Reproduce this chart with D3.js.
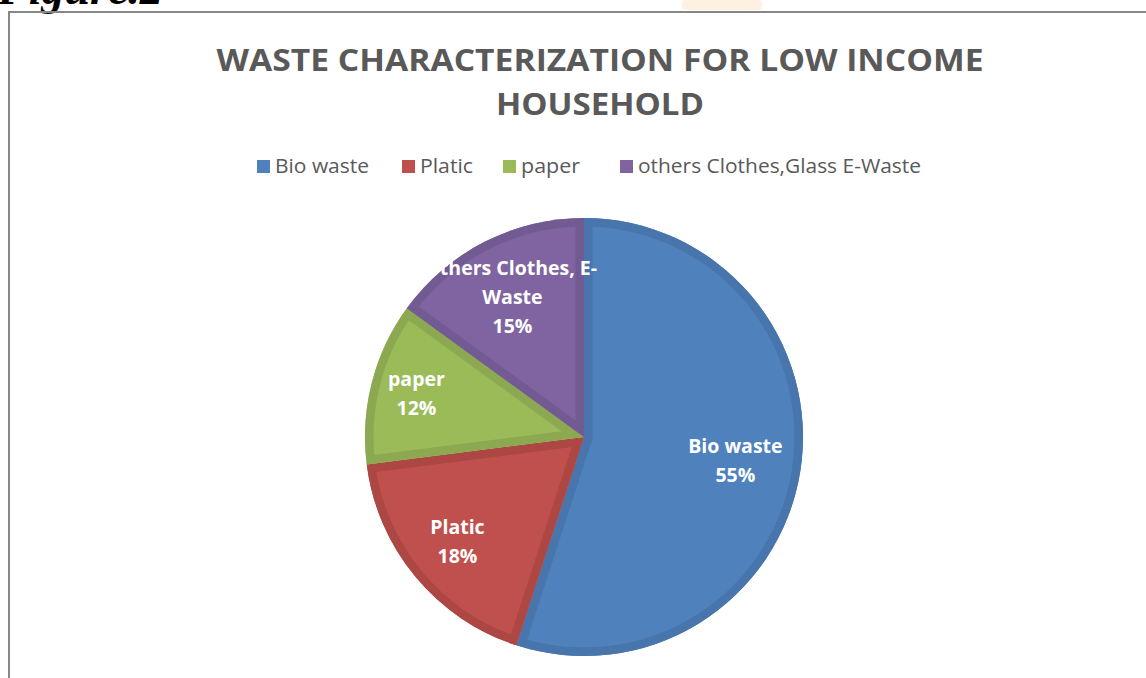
<!DOCTYPE html>
<html><head><meta charset="utf-8">
<script src="https://cdn.jsdelivr.net/npm/d3@7"></script>
<style>html,body{margin:0;padding:0;background:#fff;}svg{display:block;}</style>
</head><body>
<svg id="c" width="1146" height="678"></svg>
<script>
const categories = ["Bio waste", "Platic", "paper", "others Clothes,Glass E-Waste"];
const values = [55, 18, 12, 15];
const sliceLabels = [["Bio waste"], ["Platic"], ["paper"], ["others Clothes, E-", "Waste"]];
const colors = ["#4F81BD", "#C0504D", "#9BBB59", "#8064A2"];
const borders = ["#4775AC", "#AC4744", "#8CA951", "#725A92"];
const titleLines = ["WASTE CHARACTERIZATION FOR LOW INCOME", "HOUSEHOLD"];

const svg = d3.select("#c");
// watermark + figure caption + frame
svg.append("rect").attr("x", 682).attr("y", 0).attr("width", 80).attr("height", 10).attr("rx", 3).attr("fill", "#FFF1E2");
svg.append("text").attr("x", -2).attr("y", 4).attr("font-family", "Liberation Serif").attr("font-weight", "bold")
  .attr("font-style", "italic").attr("font-size", 46).attr("fill", "#000").text("Figure.2");
svg.append("path").attr("d", "M9,678V12H1146").attr("fill", "none").attr("stroke", "#878787").attr("stroke-width", 2);

// title
const title = svg.append("text").attr("text-anchor", "middle").attr("font-family", "Open Sans").attr("font-weight", "bold")
  .attr("font-size", 30).attr("fill", "#595959");
const titleW = [767, 208];
titleLines.forEach((t, i) => title.append("tspan").attr("x", 600).attr("y", 71 + i * 44).attr("textLength", titleW[i]).attr("lengthAdjust", "spacingAndGlyphs").text(t));

// legend
const legX = [257, 402, 503, 620];
const legW = [94, 53, 59, 283];
const leg = svg.append("g");
categories.forEach((c, i) => {
  const g = leg.append("g").attr("transform", `translate(${legX[i]},0)`);
  g.append("rect").attr("x", 0).attr("y", 160).attr("width", 13).attr("height", 13).attr("fill", colors[i]);
  g.append("text").attr("x", 18).attr("y", 173).attr("font-family", "Open Sans").attr("font-size", 20).attr("fill", "#595959")
    .attr("textLength", legW[i]).attr("lengthAdjust", "spacingAndGlyphs").text(c);
});

// pie
const cx = 584, cy = 437, R = 219;
const pie = d3.pie().sort(null).value(d => d)(values);
const arc = d3.arc().innerRadius(0).outerRadius(R);
const g = svg.append("g").attr("transform", `translate(${cx},${cy})`);
const defs = svg.append("defs");
pie.forEach((p, i) => {
  defs.append("clipPath").attr("id", "cl" + i).append("path").attr("d", arc(p));
  g.append("path").attr("d", arc(p)).attr("fill", colors[i]);
  g.append("path").attr("d", arc(p)).attr("fill", "none").attr("stroke", borders[i]).attr("stroke-width", 17)
    .attr("stroke-linejoin", "round").attr("clip-path", `url(#cl${i})`);
});

// labels
defs.append("clipPath").attr("id", "lblclip").append("rect").attr("x", 419 - cx).attr("y", -R - 20).attr("width", 1000).attr("height", 1000);
const labelRadius = [0.70, 0.75, 0.79, 0.72];
pie.forEach((p, i) => {
  const lr = labelRadius[i] * R;
  const [x, y] = d3.arc().innerRadius(lr).outerRadius(lr).centroid(p);
  const lines = sliceLabels[i].concat([values[i] + "%"]);
  const t = g.append("text").attr("text-anchor", "middle").attr("font-family", "Open Sans").attr("font-weight", "bold")
    .attr("font-size", 19.5).attr("fill", "#fff");
  if (i === 3) t.attr("clip-path", "url(#lblclip)");
  const h = 29;
  lines.forEach((l, k) => t.append("tspan").attr("x", x).attr("y", y + (k - (lines.length - 1) / 2) * h + 7).text(l));
});
</script>
</body></html>
